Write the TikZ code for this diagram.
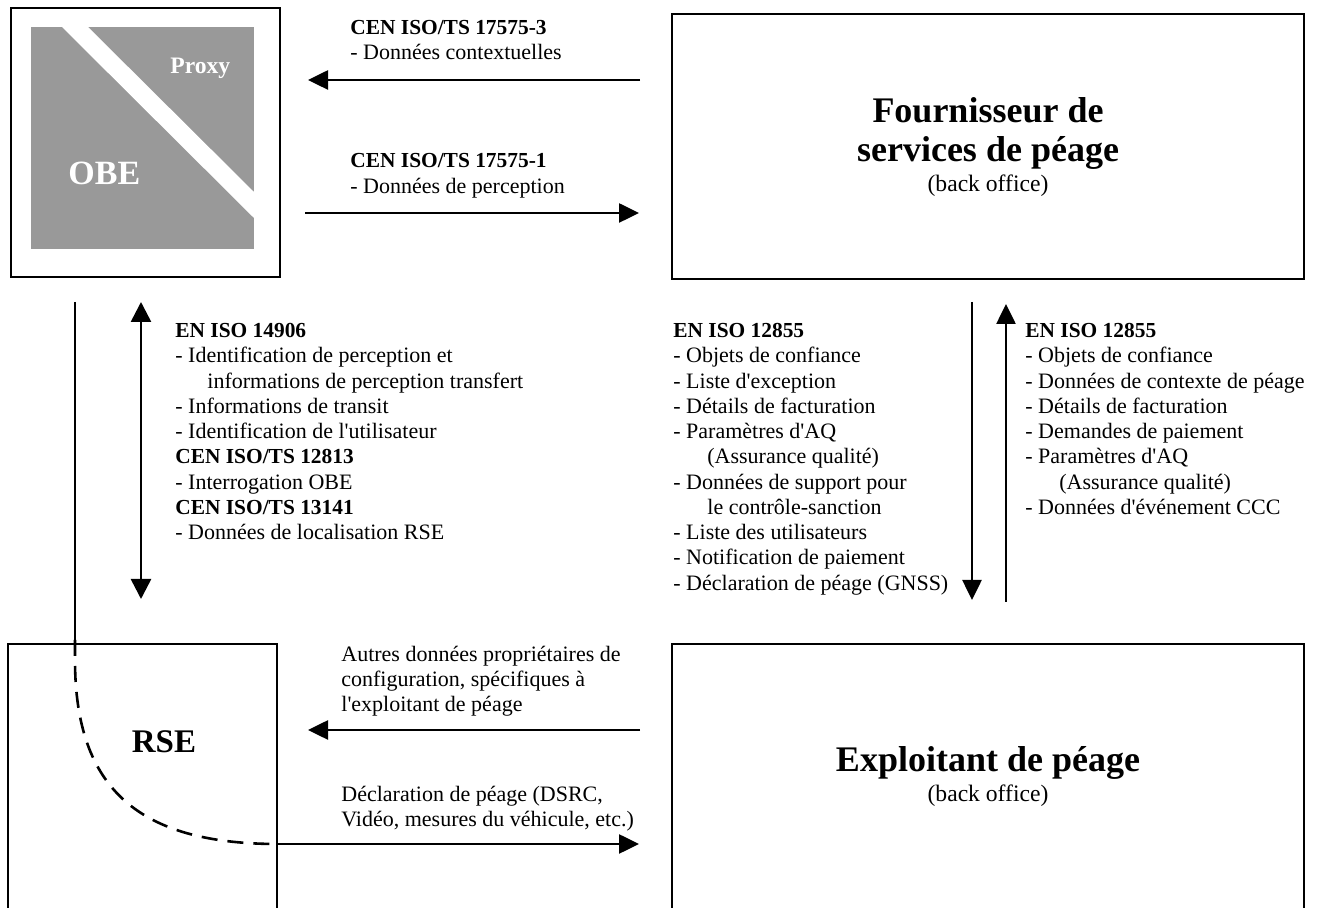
\documentclass[tikz,border=0pt]{standalone}
\usepackage{fontspec}
\setmainfont{Liberation Serif}
\usetikzlibrary{arrows.meta}
\definecolor{obegray}{HTML}{999999}
\newcommand\txtline[4]{\node[txt] (#1) at (#2,#3) {#4};}
\newcommand\hdline[4]{\node[hd] (#1) at (#2,#3) {#4};}
\newcommand\apos{\textquotesingle}
\begin{document}
\begin{tikzpicture}[x=0.5pt,y=-0.5pt,
  box/.style={draw, line width=1pt},
  arr/.style={line width=1.3pt, -{Triangle[length=10pt,width=9.5pt]}},
  darr/.style={line width=1.3pt, {Triangle[length=10pt,width=10pt]}-{Triangle[length=10pt,width=10pt]}},
  plain/.style={line width=1.3pt},
  txt/.style={anchor=base west, inner sep=0pt, font=\fontsize{11}{13}\selectfont},
  hd/.style={anchor=base west, inner sep=0pt, font=\fontsize{10.7}{13}\selectfont\bfseries},
  ttl/.style={anchor=base, inner sep=0pt, font=\fontsize{18}{22}\selectfont\bfseries},
  sub/.style={anchor=base, inner sep=0pt, font=\fontsize{11.8}{14}\selectfont}]
\useasboundingbox (0,0) rectangle (1319,908);
\clip (0,0) rectangle (1319,908);

% ---------- OBE / Proxy ----------
\draw[box] (11,8) rectangle (280,277);
\fill[obegray] (31,27) rectangle (254,249);
\fill[white] (62,27) -- (88,27) -- (254,192) -- (254,218) -- cycle;
\node[anchor=base west, inner sep=0pt, text=white, font=\fontsize{11.8}{14}\selectfont\bfseries] (proxy) at (170,74) {Proxy};
\node[anchor=base west, inner sep=0pt, text=white, font=\fontsize{17}{20}\selectfont\bfseries] (obe) at (68,185) {OBE};

% ---------- Fournisseur ----------
\draw[box] (672,14) rectangle (1304,279);
\node[ttl] (f1) at (988,123) {Fournisseur de};
\node[ttl] (f2) at (988,162) {services de péage};
\node[sub] (f3) at (988,192) {(back office)};

% ---------- RSE ----------
\draw[box] (8,920) -- (8,644) -- (277,644) -- (277,920);
\node[anchor=base, inner sep=0pt, font=\fontsize{16.5}{20}\selectfont\bfseries] (rse) at (164,753) {RSE};

% ---------- Exploitant ----------
\draw[box] (672,920) -- (672,644) -- (1304,644) -- (1304,920);
\node[ttl] (e1) at (988,772) {Exploitant de péage};
\node[sub] (e2) at (988,802) {(back office)};

% ---------- top arrows ----------
\coordinate (a1s) at (640,80);  \coordinate (a1e) at (308,80);
\coordinate (a2s) at (305,213); \coordinate (a2e) at (639,213);
\draw[arr] (a1s) -- (a1e);
\draw[arr] (a2s) -- (a2e);
\hdline{t1}{350}{35}{CEN ISO/TS 17575-3}
\txtline{t2}{350}{60}{- Données contextuelles}
\hdline{t3}{350}{168}{CEN ISO/TS 17575-1}
\txtline{t4}{350}{194}{- Données de perception}

% ---------- left vertical ----------
\coordinate (v0) at (75,302); \coordinate (v1) at (75,640);
\coordinate (v2) at (75,660); \coordinate (v3) at (278,844);
\coordinate (v4) at (639,844);
\draw[plain] (v0) -- (v1);
\draw[line width=1.3pt, dash pattern=on 8pt off 5pt] (v1) -- (v2) .. controls (75,790) and (140,844) .. (v3);
\draw[arr] (v3) -- (v4);

\coordinate (d0) at (141,302); \coordinate (d1) at (141,599);
\draw[darr] (d0) -- (d1);

\hdline{l1}{175}{338}{EN ISO 14906}
\txtline{l2}{175}{363}{- Identification de perception et}
\txtline{l3}{207}{388.5}{informations de perception transfert}
\txtline{l4}{175}{414}{- Informations de transit}
\txtline{l5}{175}{439}{- Identification de l\apos utilisateur}
\hdline{l6}{175}{464}{CEN ISO/TS 12813}
\txtline{l7}{175}{489.5}{- Interrogation OBE}
\hdline{l8}{175}{515}{CEN ISO/TS 13141}
\txtline{l9}{175}{540}{- Données de localisation RSE}

% ---------- right verticals ----------
\coordinate (r0) at (972,302); \coordinate (r1) at (972,600);
\coordinate (u0) at (1006,602); \coordinate (u1) at (1006,304);
\draw[arr] (r0) -- (r1);
\draw[arr] (u0) -- (u1);

\hdline{m1}{673}{338}{EN ISO 12855}
\txtline{m2}{673}{363}{- Objets de confiance}
\txtline{m3}{673}{388.5}{- Liste d\apos exception}
\txtline{m4}{673}{414}{- Détails de facturation}
\txtline{m5}{673}{439}{- Paramètres d\apos AQ}
\txtline{m6}{707}{464}{(Assurance qualité)}
\txtline{m7}{673}{489.5}{- Données de support pour}
\txtline{m8}{707}{515}{le contrôle-sanction}
\txtline{m9}{673}{540}{- Liste des utilisateurs}
\txtline{m10}{673}{565}{- Notification de paiement}
\txtline{m11}{673}{590.5}{- Déclaration de péage (GNSS)}

\hdline{n1}{1025}{338}{EN ISO 12855}
\txtline{n2}{1025}{363}{- Objets de confiance}
\txtline{n3}{1025}{388.5}{- Données de contexte de péage}
\txtline{n4}{1025}{414}{- Détails de facturation}
\txtline{n5}{1025}{439}{- Demandes de paiement}
\txtline{n6}{1025}{464}{- Paramètres d\apos AQ}
\txtline{n7}{1059}{489.5}{(Assurance qualité)}
\txtline{n8}{1025}{515}{- Données d\apos événement CCC}

% ---------- bottom arrows ----------
\coordinate (b1s) at (640,730); \coordinate (b1e) at (308,730);
\draw[arr] (b1s) -- (b1e);
\txtline{b1}{341}{662}{Autres données propriétaires de}
\txtline{b2}{341}{687}{configuration, spécifiques à}
\txtline{b3}{341}{712}{l\apos exploitant de péage}
\txtline{b4}{341}{802}{Déclaration de péage (DSRC,}
\txtline{b5}{341}{827}{Vidéo, mesures du véhicule, etc.)}
\end{tikzpicture}
\end{document}
